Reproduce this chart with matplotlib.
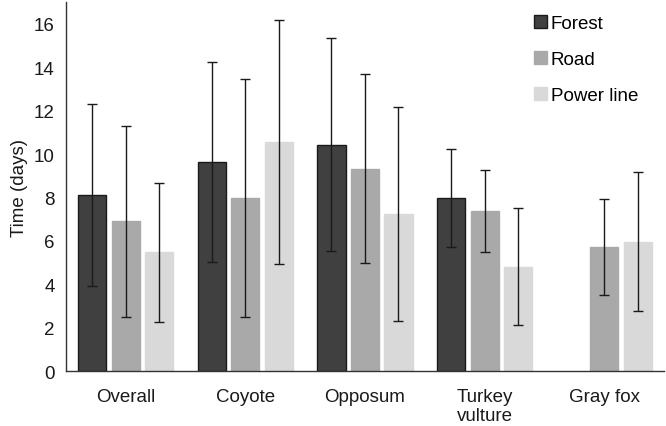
import matplotlib
matplotlib.use("Agg")
import matplotlib.pyplot as plt
import numpy as np

plt.rcParams["font.family"] = ["Liberation Sans", "DejaVu Sans"]

categories = ["Overall", "Coyote", "Opposum", "Turkey\nvulture", "Gray fox"]
habitats = ["Forest", "Road", "Power line"]

forest_mean = [8.11, 9.62, 10.44, 7.98, np.nan]
forest_err = [4.2, 4.6, 4.9, 2.25, np.nan]
road_mean = [6.9, 7.98, 9.33, 7.38, 5.71]
road_err = [4.4, 5.47, 4.35, 1.87, 2.2]
power_mean = [5.49, 10.55, 7.23, 4.82, 5.97]
power_err = [3.2, 5.6, 4.93, 2.7, 3.2]

means = [forest_mean, road_mean, power_mean]
errs = [forest_err, road_err, power_err]
colors = ["#404040", "#a9a9a9", "#d9d9d9"]
edges = ["#1a1a1a", "#a9a9a9", "#d9d9d9"]

fig = plt.figure(figsize=(6.66, 4.27), dpi=100)
ax = fig.add_axes([0.099, 0.128, 0.898, 0.865])

x = np.arange(len(categories))
offset = 0.28
width = 0.235
for i, (m, e) in enumerate(zip(means, errs)):
    pos = x + (i - 1) * offset
    ax.bar(pos, m, width=width, color=colors[i], edgecolor=edges[i],
           linewidth=1.0, label=habitats[i], zorder=2)
    ax.errorbar(pos, m, yerr=e, fmt="none", ecolor="#1a1a1a",
                elinewidth=1.0, capsize=3.5, capthick=1.0, zorder=3)

ax.set_xlim(-0.5, 4.5)
ax.set_ylim(0, 17)
ax.set_yticks(range(0, 17, 2))
ax.set_xticks(x)
ax.set_xticklabels(categories, linespacing=1.15)
ax.tick_params(axis="both", length=0, labelsize=13.5, colors="#1a1a1a")
ax.tick_params(axis="x", pad=12)
ax.tick_params(axis="y", pad=8)
ax.set_ylabel("Time (days)", fontsize=13.5, color="#1a1a1a", labelpad=4)

for side in ["top", "right"]:
    ax.spines[side].set_visible(False)
for side in ["left", "bottom"]:
    ax.spines[side].set_color("#333333")
    ax.spines[side].set_linewidth(1.0)

ax.legend(loc="upper right", bbox_to_anchor=(0.985, 1.01), frameon=False,
          fontsize=13.5, handlelength=0.7, handleheight=0.7,
          handletextpad=0.2, labelspacing=1.0)

fig.savefig("out.png", dpi=100)
